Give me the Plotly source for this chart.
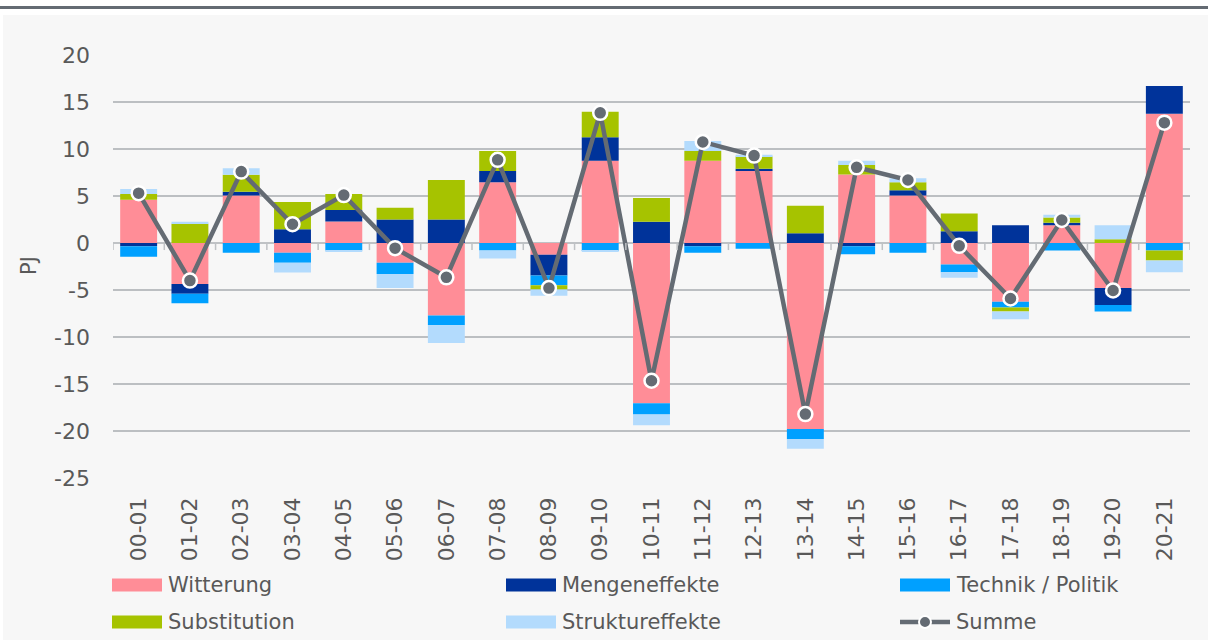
import plotly.graph_objects as go

categories = ["00-01", "01-02", "02-03", "03-04", "04-05", "05-06", "06-07", "07-08",
              "08-09", "09-10", "10-11", "11-12", "12-13", "13-14", "14-15", "15-16",
              "16-17", "17-18", "18-19", "19-20", "20-21"]

witterung = [4.6, -4.35, 5.05, -1.05, 2.3, -2.1, -7.7, 6.45, -1.25, 8.75, -17.05,
             8.75, 7.7, -19.8, 7.3, 5.05, -2.3, -6.25, 1.9, -4.8, 13.75]
mengeneffekte = [-0.35, -1.05, 0.4, 1.45, 1.2, 2.5, 2.5, 1.2, -2.2, 2.5, 2.25,
                 -0.35, 0.2, 1.05, -0.35, 0.55, 1.25, 1.9, 0.25, -1.8, 2.95]
technik = [-1.1, -1.0, -1.05, -1.05, -0.8, -1.2, -1.05, -0.8, -1.05, -0.85, -1.2,
           -0.7, -0.6, -1.05, -0.85, -1.05, -0.8, -0.6, -0.8, -0.7, -0.8]
substitution = [0.6, 2.05, 1.8, 2.9, 1.7, 1.25, 4.2, 2.15, -0.45, 2.7, 2.55,
                1.05, 1.3, 2.9, 1.0, 0.85, 1.9, -0.45, 0.55, 0.4, -1.05]
struktur = [0.55, 0.2, 0.7, -1.05, -0.15, -1.5, -1.9, -0.85, -0.65, -0.1, -1.15,
            1.05, 0.2, -1.05, 0.45, 0.45, -0.6, -0.8, 0.3, 1.5, -1.25]
summe = [5.3, -4.0, 7.6, 2.0, 5.1, -0.55, -3.65, 8.85, -4.8, 13.85, -14.65,
         10.75, 9.3, -18.2, 8.05, 6.7, -0.3, -5.9, 2.45, -5.05, 12.8]

bar_names = ["Witterung", "Mengeneffekte", "Technik / Politik", "Substitution", "Struktureffekte"]
bar_values = [witterung, mengeneffekte, technik, substitution, struktur]
bar_colors = ["#ff8d97", "#00339a", "#00a0ff", "#a6c300", "#b3dbfd"]
line_name = "Summe"
line_color = "#646b73"

y_ticks = [20, 15, 10, 5, 0, -5, -10, -15, -20, -25]
y_tick_labels = ["20", "15", "10", "5", "0", "-5", "-10", "-15", "-20", "-25"]
y_range = [-25, 20]
y_title = "PJ"

FONT = "DejaVu Sans"
TXT = "#595959"

W, H = 1208, 640
ML, MR, MT, MB = 113, 18, 55, 162
PW, PH = W - ML - MR, H - MT - MB


def px(xp):
    return (xp - ML) / PW


def py(yp):
    return (H - MB - yp) / PH


fig = go.Figure()
for name, vals, col in zip(bar_names, bar_values, bar_colors):
    fig.add_trace(go.Bar(x=categories, y=vals, name=name, marker_color=col,
                         marker_line_width=0, showlegend=False))

fig.add_trace(go.Scatter(x=categories, y=summe, name=line_name, mode="lines+markers",
                         line=dict(color=line_color, width=4.5),
                         marker=dict(size=14, color=line_color,
                                     line=dict(color="white", width=2.5)),
                         showlegend=False))

shapes = []
# top white strip with dark rule
shapes.append(dict(type="rect", xref="paper", yref="paper", x0=px(0), x1=px(W),
                   y0=py(15), y1=py(0), fillcolor="white", line_width=0, layer="below"))
shapes.append(dict(type="rect", xref="paper", yref="paper", x0=px(0), x1=px(3),
                   y0=py(H), y1=py(0), fillcolor="white", line_width=0, layer="below"))
shapes.append(dict(type="line", xref="paper", yref="paper", x0=px(0), x1=px(W),
                   y0=py(7.5), y1=py(7.5), line=dict(color=line_color, width=3)))
# tick marks on the zero line between categories
n_cat = len(categories)
for k in range(n_cat + 1):
    shapes.append(dict(type="line", xref="x", yref="y", x0=k - 0.5, x1=k - 0.5,
                       y0=0, y1=-0.75, line=dict(color="#bfc2c5", width=1.5)))

# manual legend (two rows, three columns)
legend_items = [(n, c, "bar") for n, c in zip(bar_names, bar_colors)] + [(line_name, line_color, "line")]
col_x = [112, 506, 900]
row_y = [585, 622]
annotations = []
for i, (name, col, kind) in enumerate(legend_items):
    cx = col_x[i % 3]
    cy = row_y[i // 3]
    if kind == "bar":
        shapes.append(dict(type="rect", xref="paper", yref="paper",
                           x0=px(cx), x1=px(cx + 50), y0=py(cy + 6.5), y1=py(cy - 6.5),
                           fillcolor=col, line_width=0))
    else:
        shapes.append(dict(type="line", xref="paper", yref="paper",
                           x0=px(cx), x1=px(cx + 50), y0=py(cy), y1=py(cy),
                           line=dict(color=col, width=4.5)))
        shapes.append(dict(type="circle", xref="paper", yref="paper",
                           x0=px(cx + 19), x1=px(cx + 31), y0=py(cy + 6), y1=py(cy - 6),
                           fillcolor=col, line=dict(color="white", width=2)))
    annotations.append(dict(text=name, xref="paper", yref="paper", x=px(cx + 54), y=py(cy),
                            xanchor="left", yanchor="middle", showarrow=False,
                            font=dict(family=FONT, size=21, color=TXT)))

annotations.append(dict(text=y_title, xref="paper", yref="paper", x=px(29), y=py(266),
                        xanchor="center", yanchor="middle", showarrow=False, textangle=-90,
                        font=dict(family=FONT, size=21, color=TXT)))

fig.update_layout(
    width=W, height=H,
    margin=dict(l=ML, r=MR, t=MT, b=MB, pad=0),
    paper_bgcolor="#f7f7f7", plot_bgcolor="#f7f7f7",
    barmode="relative", bargap=0.28,
    showlegend=False,
    shapes=shapes, annotations=annotations,
    font=dict(family=FONT, color=TXT, size=22),
)
fig.update_xaxes(type="category", range=[-0.5, n_cat - 0.5], autorange=False,
                 tickangle=-90, showgrid=False, showline=False,
                 ticks="", ticklabelstandoff=14,
                 tickfont=dict(family=FONT, size=22, color=TXT), fixedrange=True)
fig.update_yaxes(range=y_range, tickvals=y_ticks, ticktext=y_tick_labels,
                 showgrid=True, gridcolor="#bcbfc2",
                 gridwidth=1.5, zeroline=True, zerolinecolor="#bfc2c5", zerolinewidth=1.5,
                 showline=False, ticks="", ticklabelstandoff=22,
                 tickfont=dict(family=FONT, size=22, color=TXT), fixedrange=True)

fig.write_html("out.html", config={"displayModeBar": False},
               post_script="document.body.style.margin='0';document.body.style.overflow='hidden';")
